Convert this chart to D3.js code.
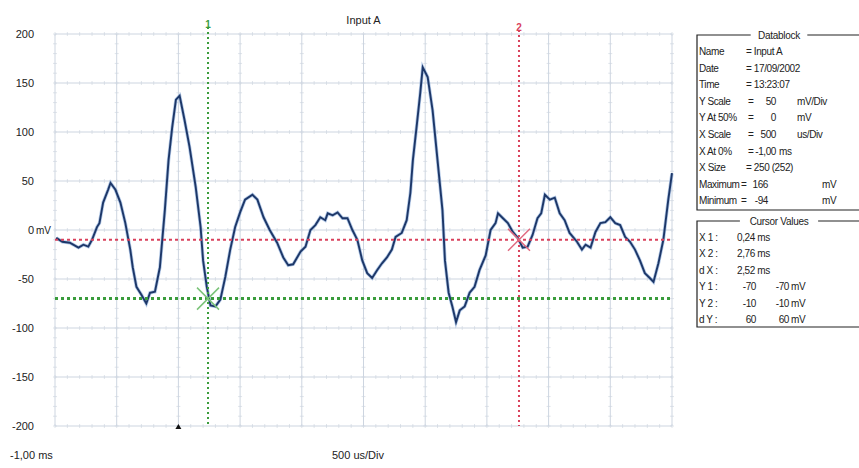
<!DOCTYPE html>
<html>
<head>
  <meta charset="utf-8">
  <script src="https://d3js.org/d3.v7.min.js"></script>
  <style>
    body { margin: 0; background: #fff; }
    text { font-family: "Liberation Sans", Arial, sans-serif; fill: #222; }
  </style>
</head>
<body>
  <div id="my_dataviz"></div>
  <script>
    // trace of Input A: time (ms) and voltage (mV)
    const timeMs = [-0.99, -0.94, -0.88, -0.81, -0.77, -0.73, -0.70, -0.66, -0.64, -0.61,
      -0.57, -0.55, -0.51, -0.47, -0.43, -0.39, -0.37, -0.34, -0.30, -0.26,
      -0.23, -0.19, -0.15, -0.11, -0.08, -0.05, -0.02, 0.01, 0.05, 0.09,
      0.14, 0.18, 0.20, 0.23, 0.26, 0.30, 0.34, 0.38, 0.42, 0.46,
      0.50, 0.54, 0.60, 0.64, 0.69, 0.74, 0.80, 0.85, 0.89, 0.93,
      0.99, 1.03, 1.07, 1.11, 1.15, 1.19, 1.21, 1.25, 1.29, 1.33,
      1.37, 1.41, 1.45, 1.49, 1.53, 1.57, 1.61, 1.65, 1.69, 1.73,
      1.76, 1.81, 1.85, 1.88, 1.90, 1.93, 1.96, 1.98, 2.02, 2.06,
      2.10, 2.14, 2.16, 2.19, 2.22, 2.25, 2.28, 2.32, 2.36, 2.40,
      2.44, 2.49, 2.53, 2.57, 2.59, 2.63, 2.67, 2.71, 2.75, 2.79,
      2.83, 2.87, 2.91, 2.94, 2.97, 3.01, 3.05, 3.09, 3.13, 3.17,
      3.23, 3.27, 3.30, 3.34, 3.38, 3.42, 3.46, 3.50, 3.54, 3.58,
      3.62, 3.66, 3.70, 3.74, 3.78, 3.82, 3.85, 3.89, 3.93, 3.97, 4.00];
    const voltMv = [-8, -12, -13, -18, -15, -17, -10, 3, 7, 28,
      41, 48, 41, 28, 7, -20, -38, -58, -66, -75,
      -64, -63, -38, 20, 71, 105, 133, 137, 112, 85,
      44, 3, -31, -58, -77, -78, -71, -48, -20, 3,
      18, 31, 36, 31, 13, 0, -13, -28, -36, -35,
      -22, -17, 0, 5, 13, 10, 17, 15, 18, 12,
      12, 0, -10, -31, -44, -49, -41, -34, -28, -20,
      -7, -3, 10, 38, 71, 105, 140, 166, 156, 122,
      71, 20, -31, -64, -78, -94, -82, -78, -64, -58,
      -41, -26, 0, 7, 17, 12, 7, -2, -8, -18,
      -17, -5, 12, 17, 36, 31, 33, 17, 10, -3,
      -12, -20, -15, -18, -2, 7, 8, 13, 7, 5,
      -7, -12, -20, -31, -44, -49, -53, -34, -10, 31, 58];

    const yTicks = [200, 150, 100, 50, 0, -50, -100, -150, -200];
    const cursorX = [0.24, 2.76];   // ms
    const cursorY = [-70, -10];     // mV

    const blockLabels = ["Name", "Date", "Time", "Y Scale", "Y At 50%", "X Scale", "X At 0%", "X Size", "Maximum", "Minimum"];
    const blockValues = ["Input A", "17/09/2002", "13:23:07", "50", "0", "500", "-1,00", "250 (252)", "166", "-94"];
    const blockUnits = ["", "", "", "mV/Div", "mV", "us/Div", "ms", "", "mV", "mV"];

    const cursorLabels = ["X 1 :", "X 2 :", "d X :", "Y 1 :", "Y 2 :", "d Y :"];
    const cursorVals = ["0,24 ms", "2,76 ms", "2,52 ms", "-70", "-10", "60"];
    const cursorVals2 = ["", "", "", "-70", "-10", "60"];

    var W = 859, H = 468;
    var svg = d3.select("#my_dataviz").append("svg")
      .attr("width", W).attr("height", H);

    var x = d3.scaleLinear().domain([-1, 4]).range([55, 672]);
    var y = d3.scaleLinear().domain([-200, 200]).range([426, 34]);

    var gridCol = "#cdd5e0";
    var minorCol = "#dfe4ea";

    // minor ticks on each grid line
    var xMinor = d3.range(-1, 4.001, 0.1);
    var yMinor = d3.range(-200, 200.1, 10);
    var grid = svg.append("g");
    yTicks.forEach(function (v) {
      grid.selectAll(null).data(xMinor).enter().append("line")
        .attr("x1", d => x(d)).attr("x2", d => x(d))
        .attr("y1", y(v) - 2).attr("y2", y(v) + 2)
        .attr("stroke", minorCol).attr("stroke-width", 1);
    });
    d3.range(-1, 4.001, 0.5).forEach(function (t) {
      grid.selectAll(null).data(yMinor).enter().append("line")
        .attr("x1", x(t) - 2).attr("x2", x(t) + 2)
        .attr("y1", d => y(d)).attr("y2", d => y(d))
        .attr("stroke", minorCol).attr("stroke-width", 1);
    });

    // major grid
    grid.selectAll(null).data(d3.range(-1, 4.001, 0.5)).enter().append("line")
      .attr("x1", d => x(d)).attr("x2", d => x(d))
      .attr("y1", y(200)).attr("y2", y(-200))
      .attr("stroke", gridCol).attr("stroke-width", 1);
    grid.selectAll(null).data(yTicks).enter().append("line")
      .attr("x1", x(-1)).attr("x2", x(4))
      .attr("y1", d => y(d)).attr("y2", d => y(d))
      .attr("stroke", gridCol).attr("stroke-width", 1);

    // y labels
    svg.selectAll(null).data(yTicks).enter().append("text")
      .attr("x", 34).attr("y", d => y(d) + 4)
      .attr("text-anchor", "end")
      .style("font-size", "11px")
      .text(d => d);
    svg.append("text").attr("x", 36).attr("y", y(0) + 4)
      .style("font-size", "10px").text("mV");

    // trace
    var trace = timeMs.map((t, i) => [t, voltMv[i]]);
    var line = d3.line().x(d => x(d[0])).y(d => y(d[1]));
    svg.append("path").datum(trace)
      .attr("d", line).attr("fill", "none")
      .attr("stroke", "#7fa3d6").attr("stroke-width", 3.4).attr("opacity", 0.6);
    svg.append("path").datum(trace)
      .attr("d", line).attr("fill", "none")
      .attr("stroke", "#1d3768").attr("stroke-width", 1.9);

    // cursors
    var cCol = ["#3a9c3c", "#d9415c"];
    var xCol = ["#7cc47a", "#e06a80"];
    cursorY.forEach(function (v, i) {
      svg.append("line")
        .attr("x1", x(-1)).attr("x2", x(4))
        .attr("y1", y(v)).attr("y2", y(v))
        .attr("stroke", cCol[i]).attr("stroke-width", i == 0 ? 3 : 2)
        .attr("stroke-dasharray", "3,3");
    });
    cursorX.forEach(function (t, i) {
      svg.append("line")
        .attr("x1", x(t)).attr("x2", x(t))
        .attr("y1", i == 0 ? 27 : 30).attr("y2", y(-200))
        .attr("stroke", cCol[i]).attr("stroke-width", 2)
        .attr("stroke-dasharray", "2,3");
      svg.append("text")
        .attr("x", x(t)).attr("y", i == 0 ? 28 : 31)
        .attr("text-anchor", "middle")
        .style("font-size", "10px").style("font-weight", "bold").style("fill", cCol[i])
        .text(i + 1);
      var cx = x(t), cy = y(cursorY[i]), r = 11;
      svg.append("path")
        .attr("d", "M" + (cx - r) + "," + (cy - r) + "L" + (cx + r) + "," + (cy + r) +
          "M" + (cx - r) + "," + (cy + r) + "L" + (cx + r) + "," + (cy - r))
        .attr("stroke", xCol[i]).attr("stroke-width", 1.5).attr("fill", "none");
    });

    // trigger marker
    svg.append("path")
      .attr("d", "M" + (x(0) - 3) + "," + (y(-200) + 3) + "L" + x(0) + "," + (y(-200) - 2) + "L" + (x(0) + 3) + "," + (y(-200) + 3) + "Z")
      .attr("fill", "#111");

    // titles
    svg.append("text").attr("x", (x(-1) + x(4)) / 2).attr("y", 24)
      .attr("text-anchor", "middle").style("font-size", "11px").text("Input A");
    svg.append("text").attr("x", 10).attr("y", 459)
      .style("font-size", "11px").text("-1,00 ms");
    svg.append("text").attr("x", 332).attr("y", 459)
      .style("font-size", "11px").text("500 us/Div");

    // Datablock panel
    function panel(top, bottom, title) {
      var titleW = title.length * 5.4 + 8;
      var cx = 779;
      svg.append("path")
        .attr("d", "M" + (cx - titleW / 2) + "," + top + "H697V" + bottom + "H870 M" + (cx + titleW / 2) + "," + top + "H870")
        .attr("stroke", "#222").attr("stroke-width", 1.2).attr("fill", "none");
      svg.append("text").attr("x", cx).attr("y", top + 4)
        .attr("text-anchor", "middle").style("font-size", "10px")
        .style("letter-spacing", "-0.3px").text(title);
    }
    panel(35, 210, "Datablock");
    panel(221, 327, "Cursor Values");

    var db = svg.append("g").style("font-size", "10px").style("letter-spacing", "-0.4px");
    blockLabels.forEach(function (lab, i) {
      var yy = 55 + i * 16.6;
      db.append("text").attr("x", 699).attr("y", yy).text(lab);
      if (i < 3 || i == 7) {
        db.append("text").attr("x", 746).attr("y", yy).text("= " + blockValues[i]);
      } else {
        db.append("text").attr("x", i > 7 ? 741 : 748).attr("y", yy).text("=");
        db.append("text").attr("x", i > 7 ? 768 : 776).attr("y", yy)
          .attr("text-anchor", "end").text(blockValues[i]);
        db.append("text").attr("x", i == 6 ? 779 : (i > 7 ? 822 : 797)).attr("y", yy).text(blockUnits[i]);
      }
    });
    var cv = svg.append("g").style("font-size", "10px").style("letter-spacing", "-0.4px");
    cursorLabels.forEach(function (lab, i) {
      var yy = 241 + i * 16.4;
      cv.append("text").attr("x", 699).attr("y", yy).text(lab);
      if (i < 3) {
        cv.append("text").attr("x", 737).attr("y", yy).text(cursorVals[i]);
      } else {
        cv.append("text").attr("x", 756).attr("y", yy).attr("text-anchor", "end").text(cursorVals[i]);
        cv.append("text").attr("x", 789).attr("y", yy).attr("text-anchor", "end").text(cursorVals2[i]);
        cv.append("text").attr("x", 791).attr("y", yy).text("mV");
      }
    });
  </script>
</body>
</html>
